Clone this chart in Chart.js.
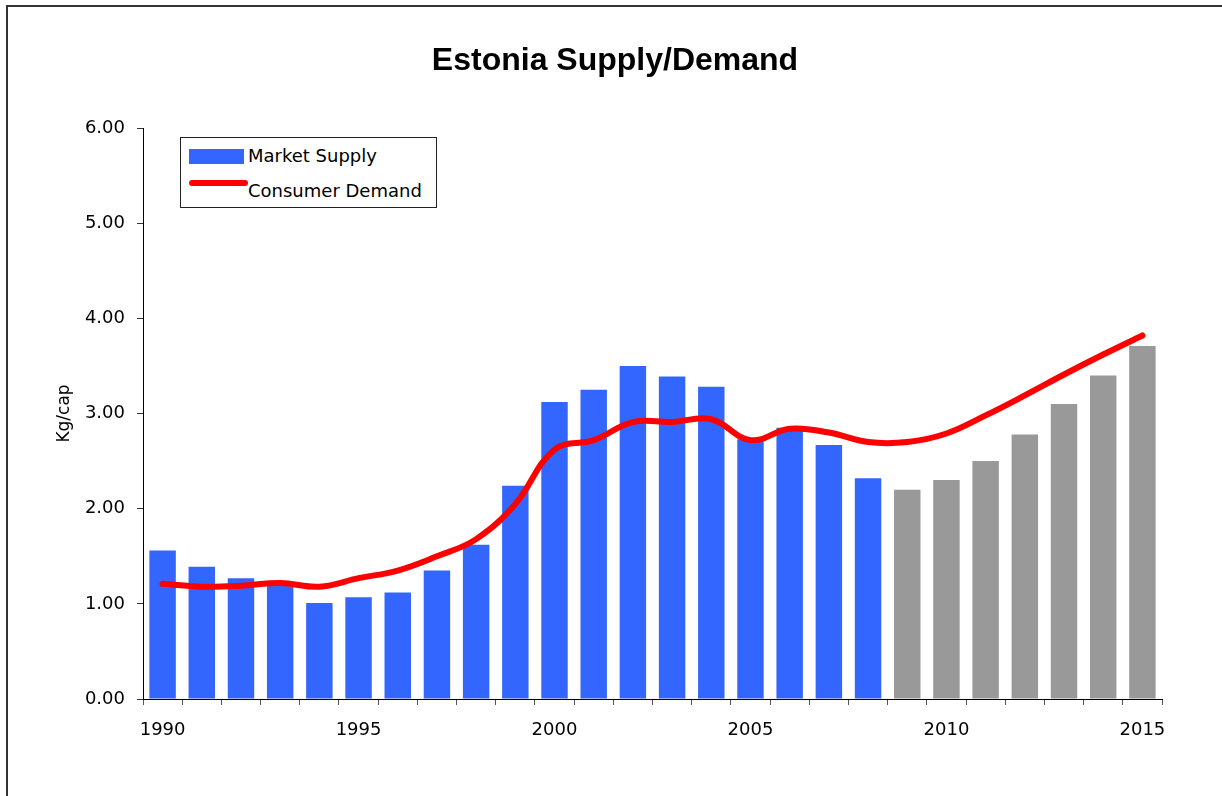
<!DOCTYPE html>
<html>
<head>
<meta charset="utf-8">
<script src="https://cdn.jsdelivr.net/npm/chart.js@4"></script>
<style>
  body { margin: 0; background: #fff; }
  #wrap { position: absolute; left: 0; top: 0; width: 1222px; height: 796px; }
  #frame { position: absolute; left: 6px; top: 5px; width: 1216px; height: 791px;
           border-top: 2px solid #333; border-left: 2px solid #333; }
  #legend { position: absolute; left: 180px; top: 137px; width: 255px; height: 69px;
            border: 1px solid #222; background: #fff;
            font-family: "DejaVu Sans", sans-serif; font-size: 18px; color: #000; }
  .sw-bar { position: absolute; left: 8px; top: 11px; width: 55px; height: 15px; background: #3366ff; }
  .sw-line { position: absolute; left: 8px; top: 42px; width: 59px; height: 6px; border-radius: 3px; background: #ff0000; }
  .lab1 { position: absolute; left: 67px; top: 7px; }
  .lab2 { position: absolute; left: 67px; top: 42px; }
</style>
</head>
<body>
<div id="wrap">
  <canvas id="chart" width="1222" height="796"></canvas>
  <div id="frame"></div>
  <div id="legend">
    <div class="sw-bar"></div><div class="lab1">Market Supply</div>
    <div class="sw-line"></div><div class="lab2">Consumer Demand</div>
  </div>
</div>
<script>
// 연도
const years = [1990, 1991, 1992, 1993, 1994, 1995, 1996, 1997, 1998, 1999,
  2000, 2001, 2002, 2003, 2004, 2005, 2006, 2007, 2008, 2009,
  2010, 2011, 2012, 2013, 2014, 2015];

// 시장 공급 (막대)
const marketSupply = [1.56, 1.39, 1.27, 1.20, 1.01, 1.07, 1.12, 1.35, 1.62, 2.24,
  3.12, 3.25, 3.50, 3.39, 3.28, 2.73, 2.85, 2.67, 2.32, 2.20,
  2.30, 2.50, 2.78, 3.10, 3.40, 3.71];

// 소비자 수요 (선)
const consumerDemand = [1.21, 1.18, 1.19, 1.22, 1.18, 1.27, 1.35, 1.50, 1.68, 2.05,
  2.62, 2.72, 2.91, 2.91, 2.94, 2.72, 2.84, 2.80, 2.70, 2.70,
  2.79, 2.98, 3.19, 3.41, 3.62, 3.82];

const lastActualYear = 2008; // 이후는 전망치 (회색)

const barColors = years.map(y => y <= lastActualYear ? "#3366ff" : "#999999");

const tickFont = { family: "DejaVu Sans", size: 18 };

new Chart(document.querySelector("#chart"), {
  type: "bar",
  data: {
    labels: years,
    datasets: [
      {
        type: "line",
        label: "Consumer Demand",
        data: consumerDemand,
        borderColor: "#ff0000",
        borderWidth: 6,
        borderCapStyle: "round",
        pointRadius: 0,
        tension: 0.4,
        order: 0
      },
      {
        label: "Market Supply",
        data: marketSupply,
        backgroundColor: barColors,
        barPercentage: 0.675,
        categoryPercentage: 1,
        order: 1
      }
    ]
  },
  options: {
    responsive: false,
    animation: false,
    layout: { padding: { left: 8, right: 0, top: 0, bottom: 0 } },
    plugins: {
      legend: { display: false },
      tooltip: { enabled: false },
      title: {
        display: true,
        text: "Estonia Supply/Demand",
        color: "#000",
        font: { family: "Liberation Sans", size: 32, weight: "bold" },
        padding: { top: 42, bottom: 47.6 }
      }
    },
    scales: {
      x: {
        offset: true,
        afterFit: scale => { scale.height = 97; },
        grid: {
          offset: true,
          drawOnChartArea: false,
          drawTicks: true,
          tickLength: 6,
          color: "#555"
        },
        border: { display: true, color: "#000", width: 1 },
        ticks: {
          autoSkip: false,
          maxRotation: 0,
          padding: 15,
          color: "#000",
          font: tickFont,
          callback: function (value, i) {
            return years[i] % 5 === 0 ? String(years[i]) : "";
          }
        }
      },
      y: {
        min: 0,
        max: 6,
        afterFit: scale => { scale.width = 135; },
        grid: {
          drawOnChartArea: false,
          drawTicks: true,
          tickLength: 6,
          color: "#333"
        },
        border: { display: true, color: "#000", width: 1 },
        ticks: {
          stepSize: 1,
          padding: 12,
          color: "#000",
          font: tickFont,
          callback: v => v.toFixed(2)
        },
        title: {
          display: true,
          text: "Kg/cap",
          color: "#000",
          font: { family: "DejaVu Sans", size: 17 },
          padding: { top: 46, bottom: 0 }
        }
      },
      // 오른쪽 여백용 빈 축
      yRight: {
        position: "right",
        min: 0,
        max: 6,
        afterFit: scale => { scale.width = 60; },
        grid: { display: false },
        border: { display: false },
        ticks: { display: false }
      }
    }
  }
});
</script>
</body>
</html>
